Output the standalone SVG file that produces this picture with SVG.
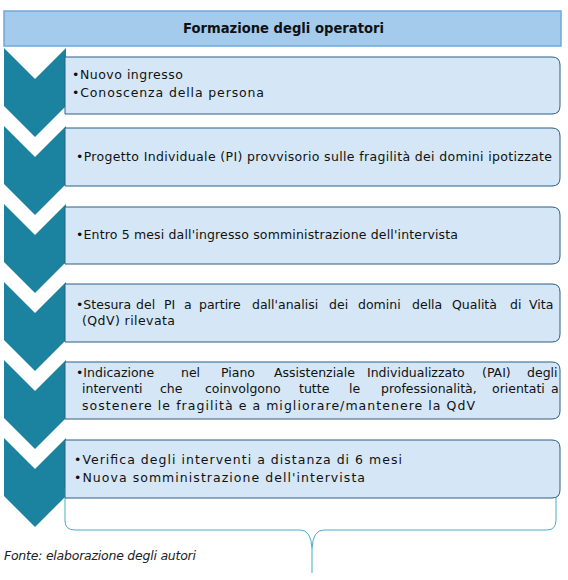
<svg xmlns="http://www.w3.org/2000/svg" width="568" height="580" viewBox="0 0 568 580">
<style>
.chev{fill:#1b82a0}
.box{fill:#d5e7f6;stroke:#2c5e80;stroke-width:1}
.t{font-family:"DejaVu Sans","Liberation Sans",sans-serif;font-size:12.5px;fill:#111}
.title{font-family:"DejaVu Sans","Liberation Sans",sans-serif;font-size:13.5px;font-weight:bold;fill:#111}
.src{font-family:"DejaVu Sans","Liberation Sans",sans-serif;font-size:12.5px;font-style:italic;fill:#222}
.br{fill:none;stroke:#4bacc6;stroke-width:1}
</style>
<rect width="568" height="580" fill="#fff"/>
<g id="title">
<rect x="4" y="11" width="557" height="35" fill="#a4cbec" stroke="#6fa8dc" stroke-width="1.5"/>
<text class="title" x="283.5" y="33" text-anchor="middle" textLength="201" lengthAdjust="spacingAndGlyphs">Formazione degli operatori</text>
</g>
<g id="chevrons">
<polygon class="chev" points="4,48 35,79 66,48 66,106 35,137 4,106"/>
<polygon class="chev" points="4,126 35,157 66,126 66,184 35,215 4,184"/>
<polygon class="chev" points="4,204 35,235 66,204 66,262 35,293 4,262"/>
<polygon class="chev" points="4,282 35,313 66,282 66,340 35,371 4,340"/>
<polygon class="chev" points="4,360 35,391 66,360 66,418 35,449 4,418"/>
<polygon class="chev" points="4,438 35,469 66,438 66,496 35,527 4,496"/>
</g>
<g id="connectors">
<path class="br" d="M65,488 V521 Q65,530 75,530 H300 Q311,530 312,548 V573 M312,548 Q313,530 324,530 H547 Q556,530 556,520 V497"/>
</g>
<g id="step1">
<path class="box" d="M65,57 H552 Q560,57 560,65 V106 Q560,114 552,114 H65 Z"/>
<text class="t" x="72" y="79" textLength="111" lengthAdjust="spacing">•Nuovo ingresso</text>
<text class="t" x="72" y="97" textLength="192" lengthAdjust="spacing">•Conoscenza della persona</text>
</g>
<g id="step2">
<path class="box" d="M65,128 H552 Q560,128 560,136 V178 Q560,186 552,186 H65 Z"/>
<text class="t" x="76" y="161" textLength="476" lengthAdjust="spacing">•Progetto Individuale (PI) provvisorio sulle fragilità dei domini ipotizzate</text>
</g>
<g id="step3">
<path class="box" d="M65,207 H552 Q560,207 560,215 V256 Q560,264 552,264 H65 Z"/>
<text class="t" x="76" y="239" textLength="382" lengthAdjust="spacing">•Entro 5 mesi dall'ingresso somministrazione dell'intervista</text>
</g>
<g id="step4">
<path class="box" d="M65,284 H552 Q560,284 560,292 V334 Q560,342 552,342 H65 Z"/>
<text class="t" y="309"><tspan x="76">•Stesura</tspan><tspan x="136">del</tspan><tspan x="164">PI</tspan><tspan x="184">a</tspan><tspan x="199">partire</tspan><tspan x="252">dall'analisi</tspan><tspan x="329">dei</tspan><tspan x="358">domini</tspan><tspan x="412">della</tspan><tspan x="452">Qualità</tspan><tspan x="510">di</tspan><tspan x="529">Vita</tspan></text>
<text class="t" x="82" y="325" textLength="93" lengthAdjust="spacing">(QdV) rilevata</text>
</g>
<g id="step5">
<path class="box" d="M65,362 H552 Q560,362 560,370 V411 Q560,419 552,419 H65 Z"/>
<text class="t" y="377"><tspan x="76">•Indicazione</tspan><tspan x="181">nel</tspan><tspan x="221">Piano</tspan><tspan x="274">Assistenziale</tspan><tspan x="367">Individualizzato</tspan><tspan x="482">(PAI)</tspan><tspan x="527">degli</tspan></text>
<text class="t" y="393"><tspan x="82">interventi</tspan><tspan x="160">che</tspan><tspan x="205">coinvolgono</tspan><tspan x="299">tutte</tspan><tspan x="349">le</tspan><tspan x="381">professionalità,</tspan><tspan x="492">orientati</tspan><tspan x="551">a</tspan></text>
<text class="t" x="82" y="410" textLength="393" lengthAdjust="spacing">sostenere le fragilità e a migliorare/mantenere la QdV</text>
</g>
<g id="step6">
<path class="box" d="M65,440 H552 Q560,440 560,448 V490 Q560,498 552,498 H65 Z"/>
<text class="t" x="74" y="464" textLength="328" lengthAdjust="spacing">•Verifica degli interventi a distanza di 6 mesi</text>
<text class="t" x="74" y="482" textLength="291" lengthAdjust="spacing">•Nuova somministrazione dell'intervista</text>
</g>
<text class="src" x="4" y="560" textLength="192" lengthAdjust="spacing">Fonte: elaborazione degli autori</text>
</svg>
